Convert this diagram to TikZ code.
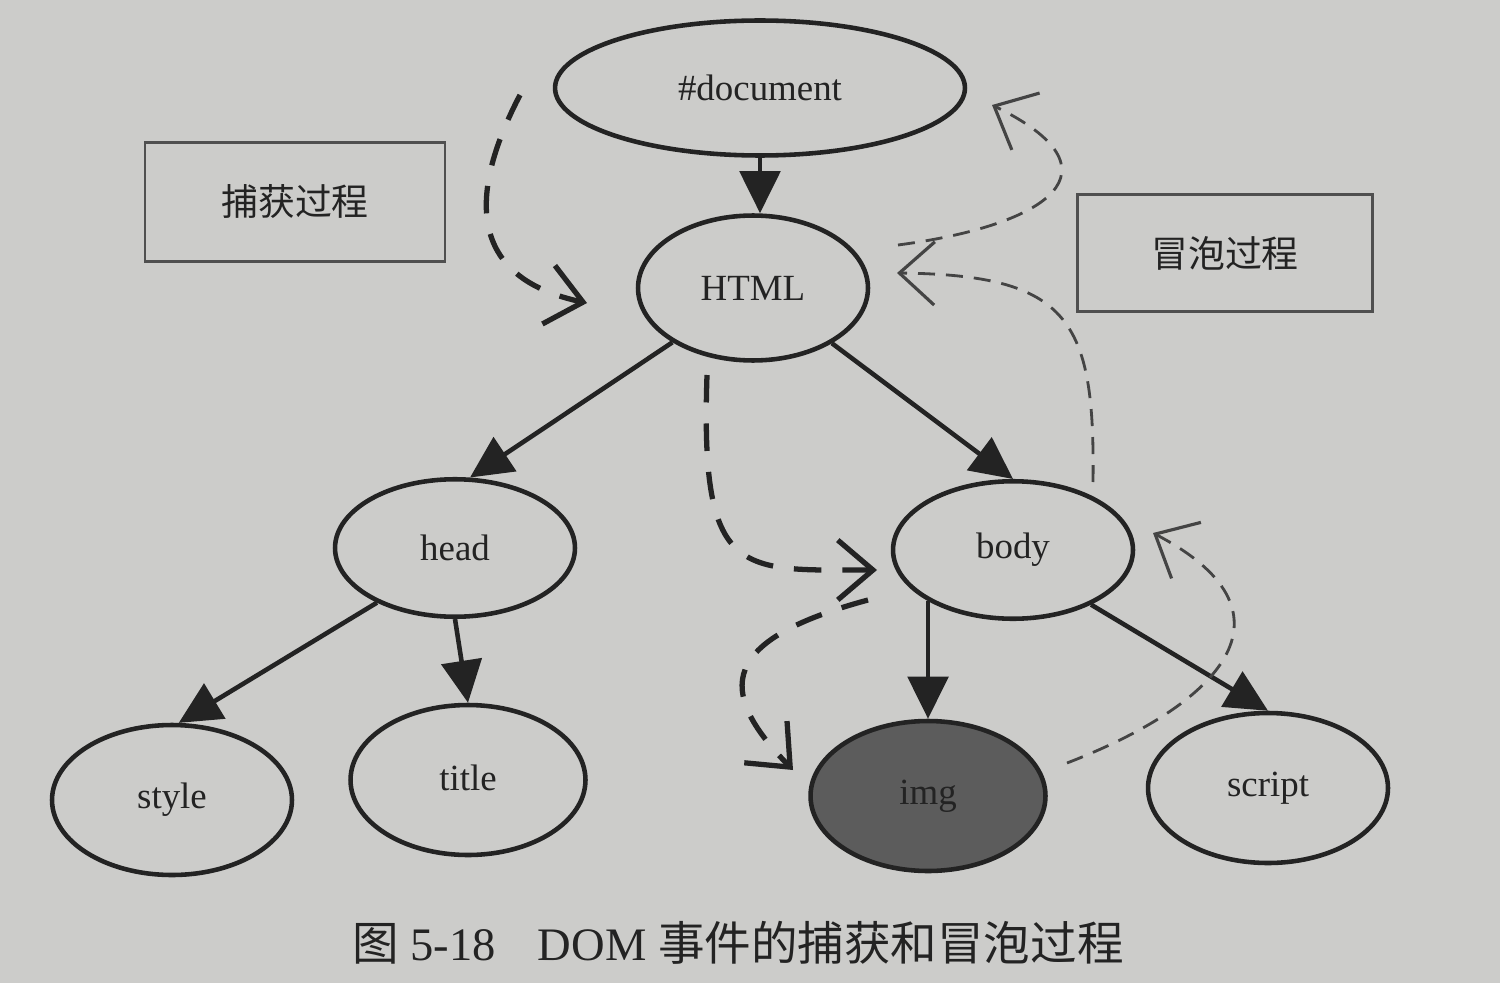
\documentclass[tikz,border=0pt]{standalone}
\usepackage{fontspec}
\setmainfont{Liberation Serif}
\newfontfamily\cjk{Noto Sans CJK SC}
\usetikzlibrary{arrows.meta,shapes.geometric}
\definecolor{paper}{RGB}{204,204,202}
\definecolor{ink}{RGB}{35,35,35}
\definecolor{imgfill}{RGB}{92,92,92}
\tikzset{
  elnode/.style={ellipse,draw=ink,line width=2.6pt,inner sep=0pt,text=ink,font=\fontsize{21pt}{25pt}\selectfont},
  treearrow/.style={draw=ink,line width=2.6pt,-{Triangle[length=24pt,width=23pt]}},
  capture/.style={draw=ink,line width=3pt,dash pattern=on 0.55cm off 0.42cm,-{Straight Barb[length=20pt,width=34pt,line width=3pt]}},
  bubble/.style={draw=ink!85,line width=1.6pt,dash pattern=on 0.34cm off 0.22cm,-{Straight Barb[length=20pt,width=36pt,line width=1.8pt]}},
  labelbox/.style={draw=ink!80,line width=1.5pt,text=ink,font=\cjk\fontsize{21pt}{25pt}\selectfont,inner sep=0pt}
}
\begin{document}
\begin{tikzpicture}[x=0.02cm,y=-0.02cm]
\fill[paper] (0,0) rectangle (1500,983);
\useasboundingbox (0,0) rectangle (1500,983);
% nodes
\node[elnode,minimum width=8.2cm,minimum height=2.7cm] (doc) at (760,88) {\#document};
\node[elnode,minimum width=4.6cm,minimum height=2.9cm] (html) at (753,288) {HTML};
\node[elnode,minimum width=4.8cm,minimum height=2.75cm] (head) at (455,548) {head};
\node[elnode,minimum width=4.8cm,minimum height=2.75cm] (body) at (1013,550) {body};
\node[elnode,minimum width=4.8cm,minimum height=3.0cm] (style) at (172,800) {style};
\node[elnode,minimum width=4.7cm,minimum height=3.0cm] (title) at (468,780) {\raisebox{3pt}{title}};
\node[elnode,fill=imgfill,minimum width=4.7cm,minimum height=3.0cm] (img) at (928,796) {img};
\node[elnode,minimum width=4.8cm,minimum height=3.0cm] (script) at (1268,788) {script};
% label boxes
\node[labelbox,minimum width=6.0cm,minimum height=2.38cm] (cap) at (295,202) {捕获过程};
\node[labelbox,minimum width=5.9cm,minimum height=2.34cm] (bub) at (1225,253) {冒泡过程};
% caption
\node[text=ink,font=\fontsize{26.5pt}{31pt}\selectfont,inner sep=0pt] (caption) at (738,943) {{\cjk 图} 5-18\hspace{0.9em}DOM {\cjk 事件的捕获和冒泡过程}};
% tree arrows
\draw[treearrow] (doc.south) -- (doc.south |- html.north);
\draw[treearrow] (html.214) -- (head.78);
\draw[treearrow] (html.-35) -- (body.north);
\draw[treearrow] (head.215) -- (style.85);
\draw[treearrow] (head.south) -- (title.north);
\draw[treearrow] (body.211) -- (body.211 |- img.north);
\draw[treearrow] (body.-35) -- (script.north);
% capture (dashed, thick)
\coordinate (c1s) at (520,95);
\coordinate (c1e) at (587,303);
\coordinate (c2s) at (707,375);
\coordinate (c2e) at (877,570);
\coordinate (c3s) at (868,600);
\coordinate (c3e) at (793,770);
\draw[capture] (c1s) .. controls (460,210) and (480,280) .. (c1e);
\draw[capture] (c2s) .. controls (700,580) and (740,570) .. (c2e);
\draw[capture] (c3s) .. controls (720,640) and (715,690) .. (c3e);
% bubble (dashed, thin)
\coordinate (b1s) at (1067,763);
\coordinate (b1e) at (1153,533);
\coordinate (b2s) at (1093,482);
\coordinate (b2e) at (897,273);
\coordinate (b3s) at (898,245);
\coordinate (b3e) at (992,105);
\draw[bubble] (b1s) .. controls (1230,700) and (1300,610) .. (b1e);
\draw[bubble] (b2s) .. controls (1095,320) and (1070,275) .. (b2e);
\draw[bubble] (b3s) .. controls (1050,225) and (1125,170) .. (b3e);
\end{tikzpicture}
\end{document}
